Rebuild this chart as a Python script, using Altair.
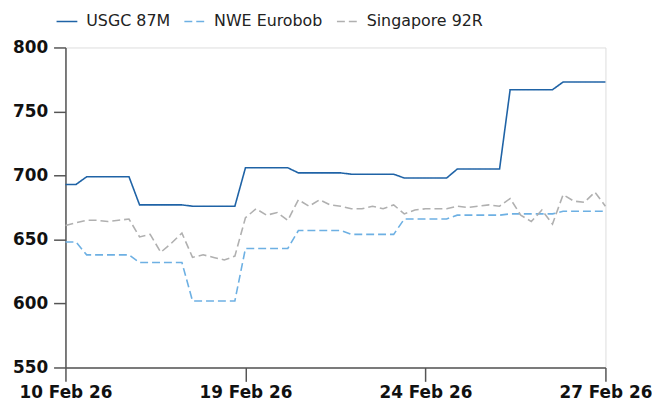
import altair as alt
import pandas as pd

series_names = ["USGC 87M", "NWE Eurobob", "Singapore 92R"]
series_colors = ["#1f63a6", "#6db0e3", "#b0b0b0"]
series_dashes = [[1, 0], [8, 4], [8, 4]]

tick_index = [0, 17, 34, 51]
tick_labels = ["10 Feb 26", "19 Feb 26", "24 Feb 26", "27 Feb 26"]

usgc = [693, 693, 699, 699, 699, 699, 699, 677, 677, 677, 677, 677,
        676, 676, 676, 676, 676, 706, 706, 706, 706, 706, 702, 702, 702,
        702, 702, 701, 701, 701, 701, 701, 698, 698, 698, 698, 698, 705,
        705, 705, 705, 705, 767, 767, 767, 767, 767, 773, 773, 773, 773, 773]
nwe = [648, 648, 638, 638, 638, 638, 638, 632, 632, 632, 632, 632,
       602, 602, 602, 602, 602, 643, 643, 643, 643, 643, 657, 657, 657,
       657, 657, 654, 654, 654, 654, 654, 666, 666, 666, 666, 666, 669,
       669, 669, 669, 669, 670, 670, 670, 670, 670, 672, 672, 672, 672, 672]
sing = [661, 663, 665, 665, 664, 665, 666, 652, 654, 640, 647, 655,
        636, 638, 636, 634, 637, 667, 674, 669, 671, 665, 681, 676, 681,
        677, 676, 674, 674, 676, 674, 677, 670, 673, 674, 674, 674, 676,
        675, 676, 677, 676, 682, 669, 664, 673, 662, 685, 680, 679, 687, 676]

rows = []
for name, vals in zip(series_names, [usgc, nwe, sing]):
    for i, v in enumerate(vals):
        rows.append({"idx": i, "series": name, "value": v})
df = pd.DataFrame(rows)

label_expr = " : ".join(
    f"datum.value == {i} ? '{l}'" for i, l in zip(tick_index, tick_labels)
) + " : ''"

FONT = "DejaVu Sans"

chart = alt.Chart(df).mark_line(strokeWidth=1.6).encode(
    x=alt.X("idx:Q",
            scale=alt.Scale(domain=[0, 51], nice=False, zero=False),
            axis=alt.Axis(values=tick_index, labelExpr=label_expr, title=None,
                          grid=False, tickSize=14, labelPadding=3,
                          labelFont=FONT, labelFontSize=17, labelFontWeight="bold",
                          labelColor="#111", domainColor="#555", tickColor="#555",
                          domainWidth=1.5, tickWidth=1.5, labelFlush=False)),
    y=alt.Y("value:Q",
            scale=alt.Scale(domain=[550, 800], nice=False, zero=False),
            axis=alt.Axis(values=[550, 600, 650, 700, 750, 800], title=None,
                          grid=False, tickSize=12, labelPadding=6,
                          labelFont=FONT, labelFontSize=17, labelFontWeight="bold",
                          labelColor="#111", domainColor="#555", tickColor="#555",
                          domainWidth=1.5, tickWidth=1.5)),
    color=alt.Color("series:N",
                    scale=alt.Scale(domain=series_names, range=series_colors),
                    legend=alt.Legend(title=None, orient="none", direction="horizontal",
                                      legendX=-10, legendY=-38,
                                      symbolType="stroke", symbolSize=440,
                                      symbolStrokeWidth=1.6, columnPadding=10,
                                      labelFont=FONT, labelFontSize=16,
                                      labelColor="#222", labelOffset=8)),
    strokeDash=alt.StrokeDash("series:N",
                              scale=alt.Scale(domain=series_names, range=series_dashes),
                              legend=None),
).properties(
    width=545, height=323
).configure_view(stroke=None).configure(padding={"left": 4, "right": 0, "top": 0, "bottom": 0})

chart.save("out.html", embed_options={"renderer": "svg", "actions": False})
